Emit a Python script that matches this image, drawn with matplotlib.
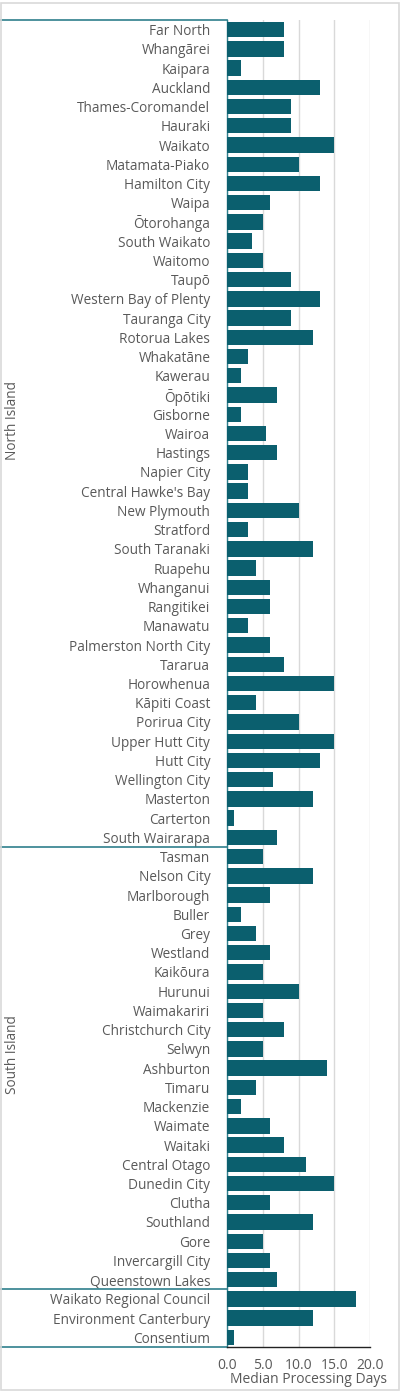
import matplotlib
matplotlib.use("Agg")
import matplotlib.pyplot as plt
from matplotlib.transforms import blended_transform_factory
from matplotlib.patches import Rectangle

north = ["Far North", "Whangārei", "Kaipara", "Auckland", "Thames-Coromandel", "Hauraki",
         "Waikato", "Matamata-Piako", "Hamilton City", "Waipa", "Ōtorohanga", "South Waikato",
         "Waitomo", "Taupō", "Western Bay of Plenty", "Tauranga City", "Rotorua Lakes",
         "Whakatāne", "Kawerau", "Ōpōtiki", "Gisborne", "Wairoa", "Hastings", "Napier City",
         "Central Hawke's Bay", "New Plymouth", "Stratford", "South Taranaki", "Ruapehu",
         "Whanganui", "Rangitikei", "Manawatu", "Palmerston North City", "Tararua",
         "Horowhenua", "Kāpiti Coast", "Porirua City", "Upper Hutt City", "Hutt City",
         "Wellington City", "Masterton", "Carterton", "South Wairarapa"]
north_vals = [8, 8, 2, 13, 9, 9, 15, 10, 13, 6, 5, 3.5, 5, 9, 13, 9, 12, 3, 2, 7, 2, 5.5, 7, 3,
              3, 10, 3, 12, 4, 6, 6, 3, 6, 8, 15, 4, 10, 15, 13, 6.4, 12, 1, 7]

south = ["Tasman", "Nelson City", "Marlborough", "Buller", "Grey", "Westland", "Kaikōura",
         "Hurunui", "Waimakariri", "Christchurch City", "Selwyn", "Ashburton", "Timaru",
         "Mackenzie", "Waimate", "Waitaki", "Central Otago", "Dunedin City", "Clutha",
         "Southland", "Gore", "Invercargill City", "Queenstown Lakes"]
south_vals = [5, 12, 6, 2, 4, 6, 5, 10, 5, 8, 5, 14, 4, 2, 6, 8, 11, 15, 6, 12, 5, 6, 7]

other = ["Waikato Regional Council", "Environment Canterbury", "Consentium"]
other_vals = [18, 12, 1]

groups = [("North Island", north, north_vals), ("South Island", south, south_vals), ("", other, other_vals)]
xticks = [0, 5, 10, 15, 20]
xlabel = "Median Processing Days"

plt.rcParams['font.family'] = ['Open Sans', 'DejaVu Sans']

fig = plt.figure(figsize=(4.0, 13.91), dpi=100)
ax = fig.add_axes([227/400, 44/1391, (370-227)/400, (1347-20)/1391])

labels = [c for _, cats, _ in groups for c in cats]
values = [v for _, _, vals in groups for v in vals]
ypos = list(range(len(labels)))

ax.barh(ypos, values, height=0.8, color='#0b5f6e', zorder=3)
ax.set_ylim(len(labels) - 0.5, -0.5)
ax.set_xlim(0, 20)
ax.set_yticks(ypos)
ax.set_yticklabels(labels, fontsize=9.8, color='#595959')
ax.tick_params(axis='both', length=0)
ax.set_xticks(xticks)
ax.set_xticklabels([f"{t:.1f}" for t in xticks], fontsize=10, color='#595959')
ax.tick_params(axis='y', pad=12)
ax.tick_params(axis='x', pad=8)
ax.grid(axis='x', color='#d9d9d9', linewidth=1, zorder=0)
for s in ['top', 'right']:
    ax.spines[s].set_visible(False)
ax.spines['left'].set_color('#2f7f8c')
ax.spines['left'].set_linewidth(1)
ax.spines['bottom'].set_color('#222222')
ax.spines['bottom'].set_linewidth(1)
ax.set_xlabel(xlabel, fontsize=10, color='#595959')
ax.xaxis.set_label_coords(0.57, -0.019)

tr = blended_transform_factory(fig.transFigure, ax.transData)
start = -0.5
bounds = [start]
centers = []
for name, cats, _ in groups:
    end = start + len(cats)
    bounds.append(end)
    centers.append((name, (start + end) / 2 - 0.7))
    start = end
for b in bounds:
    ax.plot([0, 227/400], [b, b], transform=tr, color='#2f7f8c', linewidth=1.2, clip_on=False)
for name, c in centers:
    if name:
        ax.text(13/400, c, name, transform=tr, rotation=90, ha='center', va='center',
                fontsize=9.8, color='#595959')

fig.patches.append(Rectangle((0.002, 0.001), 0.995, 0.997, transform=fig.transFigure,
                             fill=False, edgecolor='#d9d9d9', linewidth=1.2))

fig.savefig("out.png", dpi=100)
